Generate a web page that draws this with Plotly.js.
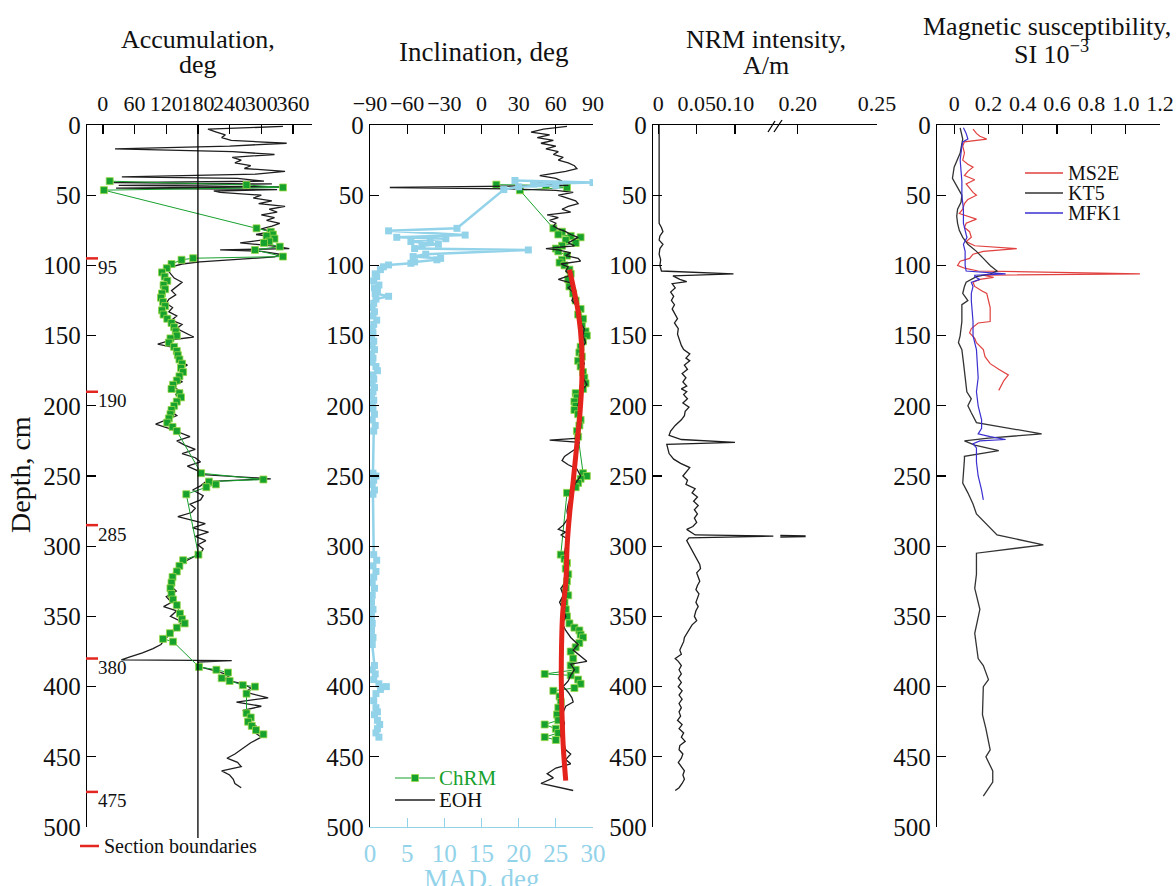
<!DOCTYPE html>
<html>
<head>
<meta charset="utf-8">
<script src="https://cdn.plot.ly/plotly-3.0.1.min.js"></script>
<style>html,body{margin:0;padding:0;background:#fff;}#chart{width:1176px;height:886px;}</style>
</head>
<body>
<div id="chart"></div>
<script>
// ---------------- DATA ----------------
// Panel 1: Accumulation (declination), deg
const accEOH_depth = [1,3,5,7,9,11,13,15,17,19,21,23,25,27,29,31,33,35,37,38,40,41,42,43,44,45,46,47,48,50,52,54,56,58,60,62,64,66,68,70,72,74,76,78,80,82,84,86,88,89,90,92,94,96,97.5,99,101,103,106,109,112,115,118,121,124,127,130,133,136,139,142,145,148,151,153,156,159,162,165,168,171,174,177,180,183,186,189,192,195,198,201,204,207,210,213,216,219,222,225,228,231,234,237,240,243,246,249,252,254,257,260,264,267,270,273,276,279,281,284,287,290,293,296,299,302,305,308,312,316,320,324,328,332,336,340,343,346,350,354,358,362,366,370,373,376,379,381,381.5,382.5,386,389,392,395,398,401,404,408,411,414,417,420,424,428,432,436,440,444,448,451,454,457,460,463,466,469,472];
const accEOH_deg = [341,199,215,232,225,243,348,240,23,246,325,245,262,250,280,268,345,290,36,255,305,20,320,30,340,25,330,210,222,300,285,320,295,345,315,330,300,325,310,335,320,300,320,290,330,300,260,320,353,222,300,335,325,250,184,150,130,122,128,135,150,140,130,138,125,120,132,125,140,130,150,140,155,172,130,104,140,135,150,145,160,145,155,140,150,130,145,138,150,140,135,130,140,120,100,125,145,165,140,155,175,150,175,185,160,178,190,318,195,185,170,190,185,165,175,168,142,165,194,170,200,175,195,180,190,185,170,150,140,132,130,128,139,120,130,115,140,128,150,140,130,118,110,95,75,50,35,244,180,184,215,240,230,265,280,270,313,253,300,265,280,275,290,285,300,280,266,250,235,255,262,225,240,247,250,262];
const accChRM_depth = [40,42.7,44.5,46.4,73.6,76,78,79,81,83,84,86.6,89,93.7,94.9,96,99,102,105,108,111,114,117,120,123,126,129,132,135,138,141,144,147,150,152,155,158,161,164,167,170,173,176,179,182,185,188,191,194,197,200,203,206,209,212,215,218,248,252.5,254,256,258,263,306,310,314,318,322,326,330,334,338,342,348,352,355,358,362,366,368,386,388,390,394,396,399,400,405,419,422,425,428,431,434];
const accChRM_deg = [13,272,341,2,291,318,322,310,325,315,305,335,288,341,171,149,130,121,112,117,122,115,118,112,110,114,118,112,115,122,130,135,138,140,128,125,135,140,142,145,150,148,152,145,140,133,130,145,148,140,135,130,128,125,122,132,140,186,304,201,214,196,158,181,152,145,140,132,130,128,130,133,140,146,150,155,140,127,114,133,182,215,237,225,240,265,288,272,272,280,275,282,290,304];
const sectionDepths = [95,190,285,380,475];
const accTicks = [0,60,120,180,240,300,360];

// Panel 2: Inclination, deg and MAD, deg
const incEOH_depth = [1,3,5,7,9,11,13,15,17,19,21,23,25,27,29,31,33,35,36,38,40,42,43,44.5,45.5,46.5,48,50,52,54,56,58,60,62,64,66,68,70,72,74,76,78,80,82,84,86,88,89,91,93,95,97,99,101,104,107,110,113,116,120,125,130,135,140,145,150,155,160,165,170,175,180,185,190,195,200,205,210,215,220,223,224.5,226,230,233,236,239,242,245,250,255,260,265,270,275,280,285,288,290,292,295,300,305,310,315,320,325,330,335,340,345,350,355,360,365,370,374,378,382,384,388,392,396,400,404,408,411,414,418,422,426,430,435,440,445,448,452,455,458,462,465,469,471,474];
const incEOH_deg = [69,50,40,55,45,58,48,60,52,62,58,66,62,70,75,77,68,55,47,60,65,40,70,-74,20,60,74,62,70,76,78,70,65,72,53,62,55,60,58,62,68,72,78,74,70,75,52,62,72,68,78,80,64,70,68,72,62,74,70,75,73,78,80,79,83,82,84,80,81,83,80,82,85,80,79,78,80,79,78,79,79,55,79,77,72,67,65,70,77,80,76,73,72,70,69,70,66,62,68,64,70,68,67,70,68,70,69,64,66,63,66,68,65,68,72,78,74,80,85,72,75,72,70,66,70,73,74,68,66,65,67,66,64,66,68,72,68,72,60,53,58,48,58,74];
const incChRM_depth = [42.5,43,44.5,46.5,73.6,76,78,79,80,82,84,86,88,90,93,96,98,100,103,106,110,115,120,125,131,135,138,143,147,150,154,158,162,165,168,172,176,180,184,188,191,194,197,200,203,206,210,214,218,222,248,250,252,255,258,262,306,309,312,316,320,325,330,335,340,345,350,355,358,360,363,365,369,372,375,380,385,388,391,392,395,398,401,403,407,411,415,420,424,427,430,433,436,438];
const incChRM_deg = [12,52,69,31,58,65,62,72,80,68,76,65,60,62,69,65,63,67,71,72,70,71,74,76,80,78,82,81,84,85,82,80,79,81,78,80,82,83,84,82,76,77,75,76,75,78,80,79,77,78,82,85,80,78,76,69,64,67,69,68,70,69,68,70,67,68,69,71,75,79,80,82,79,76,72,74,72,76,51,72,78,80,75,58,63,64,62,61,62,51,60,62,51,60];
const incFit_depth = [103,110,134,158,182,205,229,253,277,300,324,348,372,395,420,443,467];
const incFit_deg = [71,72.8,78.2,80.9,81,79.5,76.8,74.1,71.1,69.1,68.2,65.5,64.6,64.4,65,66,68];
const mad_depth = [39.5,41,42,43,44,46,73.6,75.4,78.4,80,81,82,83,85,86,88,89,92,93.7,95,96,97.5,98.5,99.7,101,103,106,108,111,114,116,118,120,122,124,127,130,133,136,139,142,145,148,151,154,157,160,163,166,169,172,175,178,181,184,187,190,193,196,199,202,206,210,214,218,248,250,253,256,260,263,306,310,314,318,322,326,330,335,340,345,350,355,360,365,370,385,388,391,395,398,400,402,405,410,415,418,420,424,427,430,433,436];
const mad_deg = [19.5,30,22,25,20,18,11.7,2.5,12.8,3.6,10.2,8.1,5.5,9.2,7,6,21.3,7.5,5.8,9.5,9,6,5.5,2.5,1.8,1.4,0.7,0.9,0.5,1.2,0.6,1,0.7,2.5,0.8,0.5,0.3,0.6,0.4,0.9,0.5,0.3,0.4,0.2,0.5,0.3,0.6,0.2,0.4,0.3,0.8,1,0.4,0.5,0.3,0.6,0.4,0.2,0.5,0.3,0.4,0.6,0.3,0.7,0.5,0.4,0.8,0.5,0.3,0.6,0.4,0.5,0.9,0.4,0.8,0.5,0.3,0.6,0.3,0.2,0.4,0.2,0.3,0.2,0.4,0.3,0.6,0.3,0.7,0.5,1.2,2.2,1.4,0.8,0.5,0.8,1,0.6,1,1.3,1,0.8,1.2];
const incTicks = [-90,-60,-30,0,30,60,90];
const incTickText = ['\u221290','\u221260','\u221230','0','30','60','90'];
const madTicks = [0,5,10,15,20,25,30];
const incLegendNames = ['ChRM','EOH'];

// Panel 3: NRM intensity, A/m (broken axis)
const nrm_depth = [0,10,20,30,40,50,60,70,73,76,79,82,85,88,92,96,100,104,106,107.5,110,111.5,113,116,119,122,125,128,131,135,138,141,145,149,153,157,160,163,166,168,171,174,177,180,183,186,188,190,192,195,198,201,204,207,210,214,218,221,224,226,227.5,230,234,238,241,244,247,250,253,256,259,262,265,268,271,274,277,280,283,286,288,290,292,292.8,294,296,300,303,306,310,313,316,319,322,325,328,331,334,337,340,343,346,350,353,356,359,362,365,368,371,374,377,380,382,385,388,391,394,397,400,403,406,409,412,415,418,421,424,427,430,433,436,439,442,445,448,451,454,457,460,463,466,469,472,474];
const nrm_val = [0.001,0.001,0.0005,0.001,0.0005,0.001,0.0005,0.001,0.004,0.006,0.002,0.001,0.006,0.002,0.001,0.003,0.002,0.004,0.098,0.019,0.028,0.037,0.018,0.022,0.016,0.02,0.017,0.021,0.018,0.022,0.025,0.021,0.026,0.025,0.027,0.03,0.033,0.041,0.036,0.041,0.034,0.038,0.031,0.036,0.032,0.037,0.03,0.037,0.033,0.038,0.032,0.04,0.035,0.034,0.03,0.022,0.016,0.014,0.03,0.1,0.011,0.012,0.014,0.02,0.029,0.041,0.037,0.032,0.038,0.036,0.048,0.044,0.051,0.046,0.052,0.047,0.051,0.047,0.05,0.045,0.037,0.042,0.048,0.15,0.04,0.037,0.041,0.044,0.047,0.051,0.054,0.055,0.05,0.052,0.054,0.051,0.049,0.053,0.051,0.049,0.052,0.049,0.047,0.05,0.044,0.041,0.038,0.034,0.033,0.031,0.028,0.03,0.022,0.026,0.03,0.027,0.03,0.026,0.03,0.026,0.031,0.027,0.031,0.027,0.03,0.027,0.029,0.025,0.031,0.027,0.033,0.03,0.035,0.028,0.027,0.032,0.03,0.026,0.03,0.034,0.032,0.034,0.031,0.027,0.022];
const nrmSpike_depth = [292.5,292.9,293.2];
const nrmSpike_val = [0.189,0.205,0.189];
const nrmTicksLow = [0,0.05,0.10];
const nrmTickTextLow = ['0','0.05','0.10'];
const nrmTicksHigh = [0.20,0.25];
const nrmTickTextHigh = ['0.20','0.25'];

// Panel 4: Magnetic susceptibility, SI 10^-3
const ms2e_depth = [3,6,8,10,12,15,20,25,28,30,33,36,39,42,45,48,50,53,56,60,63,67,70,73,76,80,83,86,88,90,92,95,97,100,102,104,106,107,108.5,110,112,115,118,120,125,130,135,140,141,145,148,152,155,160,165,170,174,178,182,186,189];
const ms2e_val = [0.11,0.13,0.15,0.19,0.06,0.05,0.06,0.05,0.08,0.11,0.08,0.06,0.12,0.07,0.09,0.11,0.13,0.08,0.06,0.05,0.03,0.13,0.07,0.06,0.09,0.1,0.07,0.12,0.365,0.17,0.11,0.09,0.035,0.02,0.06,0.14,1.083,0.17,0.23,0.15,0.11,0.12,0.16,0.19,0.2,0.21,0.21,0.21,0.14,0.1,0.09,0.12,0.13,0.17,0.18,0.21,0.26,0.316,0.29,0.27,0.26];
const kt5_depth = [2,10,20,30,38,45,50,55,60,65,70,75,80,85,90,95,100,104,106,108,110,112,115,120,125,128,140,150,155,160,170,180,190,195,200,205,212,220,223,225,228,232,236,238,245,255,262,270,277,292,299,305,320,330,345,362,380,385,395,400,420,430,445,450,460,468,478];
const kt5_val = [0.035,0.05,0.035,0,-0.01,0.02,0.045,0.04,0.02,0.015,0.02,0.03,0.05,0.08,0.13,0.17,0.21,0.25,0.21,0.13,0.1,0.07,0.06,0.05,0.08,0.045,0.045,0.035,0.025,0.045,0.055,0.064,0.074,0.1,0.08,0.1,0.13,0.51,0.2,0.06,0.12,0.26,0.06,0.06,0.055,0.05,0.08,0.11,0.13,0.25,0.52,0.13,0.13,0.12,0.15,0.12,0.14,0.17,0.2,0.17,0.165,0.185,0.21,0.185,0.225,0.225,0.17];
const mfk1_depth = [2,6,10,12,15,25,40,50,60,70,78,80,85,90,100,104,106,107,108,110,112,115,120,125,140,150,160,180,190,200,210,216,220,222,224,225,227,230,240,250,260,267];
const mfk1_val = [0.054,0.07,0.08,0.05,0.045,0.035,0.045,0.045,0.054,0.054,0.07,0.075,0.054,0.064,0.064,0.07,0.3,0.12,0.12,0.15,0.1,0.11,0.1,0.1,0.11,0.11,0.13,0.14,0.13,0.14,0.16,0.16,0.14,0.21,0.3,0.15,0.11,0.13,0.13,0.14,0.16,0.17];
const msTicks = [0,0.2,0.4,0.6,0.8,1.0,1.2];
const msTickText = ['0','0.2','0.4','0.6','0.8','1.0','1.2'];
const msLegendNames = ['MS2E','KT5','MFK1'];

const depthTicks = [0,50,100,150,200,250,300,350,400,450,500];

// ---------------- STYLE ----------------
const SERIF = 'Liberation Serif, Times New Roman, serif';
const W = 1176, H = 886;
const px = v => v / W;            // horizontal pixel -> paper
const py = v => 1 - v / H;        // vertical pixel -> paper
const yDom = [py(827), py(125)];
const GREEN = '#17a12d', BLACK = '#1e1e1e', LBLUE = '#93d3ea', RED = '#e4231c';
const BLUE = '#3a2fd0', MSRED = '#e0413f', KTBLACK = '#333333';

function xAxisBase(extra) {
  return Object.assign({
    side: 'top', showgrid: false, zeroline: false, showline: true, linecolor: '#000', linewidth: 1.3,
    ticks: 'inside', ticklen: 9, tickwidth: 1.3, tickcolor: '#000', fixedrange: true, tickangle: 0,
    tickfont: {family: SERIF, size: 22, color: '#111'}, tickmode: 'array', ticklabelstandoff: 4
  }, extra);
}
function yAxisBase(extra) {
  return Object.assign({
    domain: yDom, range: [500, 0], autorange: false, showgrid: false, zeroline: false, showline: true,
    linecolor: '#000', linewidth: 1.3, ticks: 'inside', ticklen: 9, tickwidth: 1.3, tickcolor: '#000',
    tickmode: 'array', tickvals: depthTicks, tickfont: {family: SERIF, size: 25, color: '#111'}, fixedrange: true
  }, extra);
}

// ---------------- TRACES ----------------
const traces = [
  // Panel 1
  {x: accEOH_deg, y: accEOH_depth, xaxis: 'x', yaxis: 'y', mode: 'lines', line: {color: BLACK, width: 1.3}},
  {x: accChRM_deg, y: accChRM_depth, xaxis: 'x', yaxis: 'y', mode: 'lines+markers', line: {color: GREEN, width: 1},
   marker: {symbol: 'square', size: 7, color: GREEN, line: {color: '#9bd94a', width: 0.8}}},
  // Panel 2
  {x: mad_deg, y: mad_depth, xaxis: 'x3', yaxis: 'y2', mode: 'lines+markers', line: {color: LBLUE, width: 2.5},
   marker: {symbol: 'square', size: 7, color: LBLUE}},
  {x: incChRM_deg, y: incChRM_depth, xaxis: 'x2', yaxis: 'y2', mode: 'lines+markers', name: incLegendNames[0],
   line: {color: GREEN, width: 1}, marker: {symbol: 'square', size: 7, color: GREEN, line: {color: '#9bd94a', width: 0.8}}},
  {x: incEOH_deg, y: incEOH_depth, xaxis: 'x2', yaxis: 'y2', mode: 'lines', name: incLegendNames[1], line: {color: BLACK, width: 1.3}},
  {x: incFit_deg, y: incFit_depth, xaxis: 'x2', yaxis: 'y2', mode: 'lines', line: {color: RED, width: 5, shape: 'spline'}},
  // Panel 3
  {x: nrm_val, y: nrm_depth, xaxis: 'x4', yaxis: 'y3', mode: 'lines', line: {color: BLACK, width: 1.3}},
  {x: nrmSpike_val, y: nrmSpike_depth, xaxis: 'x5', yaxis: 'y3', mode: 'lines', line: {color: BLACK, width: 2}},
  // Panel 4
  {x: ms2e_val, y: ms2e_depth, xaxis: 'x6', yaxis: 'y4', mode: 'lines', name: msLegendNames[0], line: {color: MSRED, width: 1.2}},
  {x: kt5_val, y: kt5_depth, xaxis: 'x6', yaxis: 'y4', mode: 'lines', name: msLegendNames[1], line: {color: KTBLACK, width: 1.3}},
  {x: mfk1_val, y: mfk1_depth, xaxis: 'x6', yaxis: 'y4', mode: 'lines', name: msLegendNames[2], line: {color: BLUE, width: 1.2}}
];

// ---------------- SHAPES & ANNOTATIONS ----------------
const pl = (x0, y0, x1, y1, color, width) => ({type: 'line', xref: 'paper', yref: 'paper', x0: px(x0), x1: px(x1), y0: py(y0), y1: py(y1), line: {color: color, width: width}});
const shapes = [
  // vertical 180° reference line in the accumulation panel
  {type: 'line', xref: 'x', yref: 'paper', x0: 180, x1: 180, y0: py(838), y1: py(125), line: {color: '#000', width: 1.3}},
  // axis break marks on NRM axis
  pl(768, 132, 775, 121, '#000', 1.3),
  pl(774, 132, 782, 120, '#000', 1.3),
  // legend line for section boundaries
  pl(80, 846, 99, 846, '#e3261f', 2.5),
  // inclination legend symbols
  pl(395, 778, 435, 778, GREEN, 1.2),
  {type: 'rect', xref: 'paper', yref: 'paper', x0: px(411.5), x1: px(418.5), y0: py(781.5), y1: py(774.5), fillcolor: GREEN, line: {color: '#9bd94a', width: 0.8}},
  pl(395, 800, 435, 800, BLACK, 1.3),
  // susceptibility legend symbols
  pl(1025, 173, 1063, 173, MSRED, 1.4),
  pl(1025, 193, 1063, 193, KTBLACK, 1.4),
  pl(1025, 213, 1063, 213, BLUE, 1.4)
];
sectionDepths.forEach(d => shapes.push({type: 'line', xref: 'paper', yref: 'y', x0: px(86), x1: px(98), y0: d, y1: d, line: {color: '#e3261f', width: 2.5}}));

const tf = (size, color) => ({family: SERIF, size: size, color: color || '#111'});
const ann = (text, x, y, size, xanchor, color, extra) => Object.assign({text: text, x: px(x), y: py(y), xref: 'paper', yref: 'paper', showarrow: false,
  font: tf(size, color), xanchor: xanchor || 'center', yanchor: 'middle'}, extra || {});
const annotations = [
  ann('Accumulation,', 198, 40, 26),
  ann('deg', 198, 64, 26),
  ann('Inclination, deg', 483, 52, 27),
  ann('NRM intensity,', 766, 40, 26),
  ann('A/m', 766, 65, 26),
  ann('Magnetic susceptibility,', 921, 26, 26, 'left'),
  ann('SI 10<sup>\u22123</sup>', 1051, 52, 26),
  ann('Depth, cm', 20, 475, 28, 'center', null, {textangle: -90}),
  ann('MAD, deg', 482, 862, 27, 'center', LBLUE, {yanchor: 'top'}),
  ann('Section boundaries', 102, 846, 20, 'left'),
  ann(incLegendNames[0], 437, 778, 21, 'left', GREEN),
  ann(incLegendNames[1], 437, 800, 21, 'left'),
  ann(msLegendNames[0], 1066, 173, 20, 'left'),
  ann(msLegendNames[1], 1066, 193, 20, 'left'),
  ann(msLegendNames[2], 1066, 213, 20, 'left')
];
sectionDepths.forEach(d => annotations.push({text: String(d), x: px(96), y: d, xref: 'paper', yref: 'y', yshift: -9, showarrow: false, font: tf(19), xanchor: 'left', yanchor: 'middle'}));

// ---------------- LAYOUT ----------------
const layout = {
  width: W, height: H, autosize: false,
  margin: {l: 0, r: 0, t: 0, b: 0, pad: 0},
  paper_bgcolor: '#fff', plot_bgcolor: 'rgba(0,0,0,0)',
  hovermode: false, showlegend: false,
  xaxis: xAxisBase({domain: [px(87), px(312)], range: [-30, 396], anchor: 'y', tickvals: accTicks, ticktext: accTicks.map(String)}),
  yaxis: yAxisBase({anchor: 'x'}),
  xaxis2: xAxisBase({domain: [px(370), px(593)], range: [-90, 90], anchor: 'y2', tickvals: incTicks, ticktext: incTickText}),
  xaxis3: xAxisBase({domain: [px(370), px(593)], range: [0, 30], anchor: 'y2', overlaying: 'x2', side: 'bottom',
    linecolor: LBLUE, tickcolor: LBLUE, tickvals: madTicks, ticktext: madTicks.map(String), tickfont: tf(25, LBLUE)}),
  yaxis2: yAxisBase({anchor: 'x2'}),
  xaxis4: xAxisBase({domain: [px(653), px(776)], range: [-0.007, 0.1535], anchor: 'y3', tickvals: nrmTicksLow, ticktext: nrmTickTextLow}),
  xaxis5: xAxisBase({domain: [px(776), px(877)], range: [0.1863, 0.25], anchor: 'y3', tickvals: nrmTicksHigh, ticktext: nrmTickTextHigh}),
  yaxis3: yAxisBase({anchor: 'x4'}),
  xaxis6: xAxisBase({domain: [px(937), px(1160)], range: [-0.1, 1.2], anchor: 'y4', tickvals: msTicks, ticktext: msTickText}),
  yaxis4: yAxisBase({anchor: 'x6'}),
  shapes: shapes,
  annotations: annotations
};

Plotly.newPlot('chart', traces, layout, {staticPlot: true, displayModeBar: false});
</script>
</body>
</html>
